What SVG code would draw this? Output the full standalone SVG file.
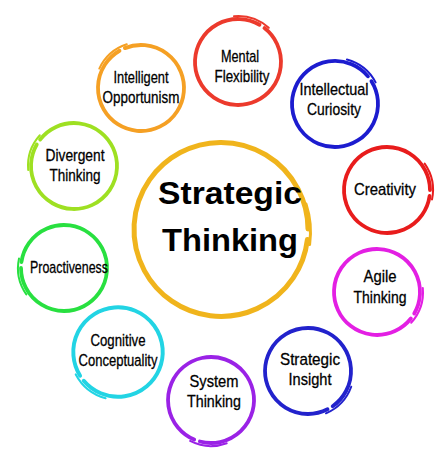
<svg xmlns="http://www.w3.org/2000/svg" xmlns:xlink="http://www.w3.org/1999/xlink" width="447" height="450" viewBox="0 0 447 450">
<style>
.ring{fill:none;stroke-linecap:round}
.main{stroke-width:3.8}
.tail{stroke-width:2}
.lbl{font-family:"Liberation Sans",Arial,sans-serif;font-size:17px;fill:#000;stroke:#000;stroke-width:0.3;text-anchor:middle}
.big{font-family:"Liberation Sans",Arial,sans-serif;font-size:31px;font-weight:bold;fill:#000;text-anchor:middle}
</style>
<defs>
<g id="ring" class="ring">
<path class="main" d="M 42.58 5.98 A 43 43 0 1 1 43 0"/>
<path class="tail" d="M 37.68 -26.38 A 46 46 0 0 1 44.99 9.56"/>
</g>
</defs>
<rect width="447" height="450" fill="#fff"/>
<g id="center">
<g class="ring" stroke="#f0b41c">
<path stroke-width="5" d="M 86.4 10.6 A 87 87 0 1 1 87 0" transform="translate(221,229)"/>
<path stroke-width="3" d="M 85 -25 A 90 90 0 0 1 88.6 15.6" transform="translate(221,229)"/>
</g>
<text class="big" x="230" y="204" textLength="144" lengthAdjust="spacingAndGlyphs">Strategic</text>
<text class="big" x="230" y="251" textLength="136" lengthAdjust="spacingAndGlyphs">Thinking</text>
</g>
<g id="mental-flexibility">
<use xlink:href="#ring" stroke="#ec3a2c" transform="translate(238,62) rotate(-60)"/>
<text class="lbl" x="240" y="62" textLength="38" lengthAdjust="spacingAndGlyphs">Mental</text>
<text class="lbl" x="242" y="82" textLength="55" lengthAdjust="spacingAndGlyphs">Flexibility</text>
</g>
<g id="intellectual-curiosity">
<use xlink:href="#ring" stroke="#1c1ccf" transform="translate(335,104) rotate(-40)"/>
<text class="lbl" x="334" y="95" textLength="69" lengthAdjust="spacingAndGlyphs">Intellectual</text>
<text class="lbl" x="334" y="115" textLength="54" lengthAdjust="spacingAndGlyphs">Curiosity</text>
</g>
<g id="creativity">
<use xlink:href="#ring" stroke="#e81c1c" transform="translate(387,190) rotate(0)"/>
<text class="lbl" x="385" y="195" textLength="62" lengthAdjust="spacingAndGlyphs">Creativity</text>
</g>
<g id="agile-thinking">
<use xlink:href="#ring" stroke="#e31fe3" transform="translate(377,292) rotate(30)"/>
<text class="lbl" x="380" y="282" textLength="33" lengthAdjust="spacingAndGlyphs">Agile</text>
<text class="lbl" x="380" y="303" textLength="53" lengthAdjust="spacingAndGlyphs">Thinking</text>
</g>
<g id="strategic-insight">
<use xlink:href="#ring" stroke="#2222cc" transform="translate(308,371) rotate(55)"/>
<text class="lbl" x="310" y="365" textLength="60" lengthAdjust="spacingAndGlyphs">Strategic</text>
<text class="lbl" x="310" y="385" textLength="43" lengthAdjust="spacingAndGlyphs">Insight</text>
</g>
<g id="system-thinking">
<use xlink:href="#ring" stroke="#9a22e6" transform="translate(211,400) rotate(105)"/>
<text class="lbl" x="214" y="387" textLength="49" lengthAdjust="spacingAndGlyphs">System</text>
<text class="lbl" x="214" y="407" textLength="54" lengthAdjust="spacingAndGlyphs">Thinking</text>
</g>
<g id="cognitive-conceptuality">
<use xlink:href="#ring" stroke="#22d4e4" transform="translate(118,352) rotate(140) scale(1.04)"/>
<text class="lbl" x="118" y="346" textLength="55" lengthAdjust="spacingAndGlyphs">Cognitive</text>
<text class="lbl" x="118" y="366" textLength="79" lengthAdjust="spacingAndGlyphs">Conceptuality</text>
</g>
<g id="proactiveness">
<use xlink:href="#ring" stroke="#28e040" transform="translate(64,268) rotate(180)"/>
<text class="lbl" x="69" y="273" textLength="78" lengthAdjust="spacingAndGlyphs">Proactiveness</text>
</g>
<g id="divergent-thinking">
<use xlink:href="#ring" stroke="#9ee022" transform="translate(74,166) rotate(210)"/>
<text class="lbl" x="75" y="161" textLength="59" lengthAdjust="spacingAndGlyphs">Divergent</text>
<text class="lbl" x="75" y="181" textLength="51" lengthAdjust="spacingAndGlyphs">Thinking</text>
</g>
<g id="intelligent-opportunism">
<use xlink:href="#ring" stroke="#f5a024" transform="translate(141,88) rotate(240)"/>
<text class="lbl" x="141" y="83" textLength="55" lengthAdjust="spacingAndGlyphs">Intelligent</text>
<text class="lbl" x="141" y="103" textLength="77" lengthAdjust="spacingAndGlyphs">Opportunism</text>
</g>
</svg>
